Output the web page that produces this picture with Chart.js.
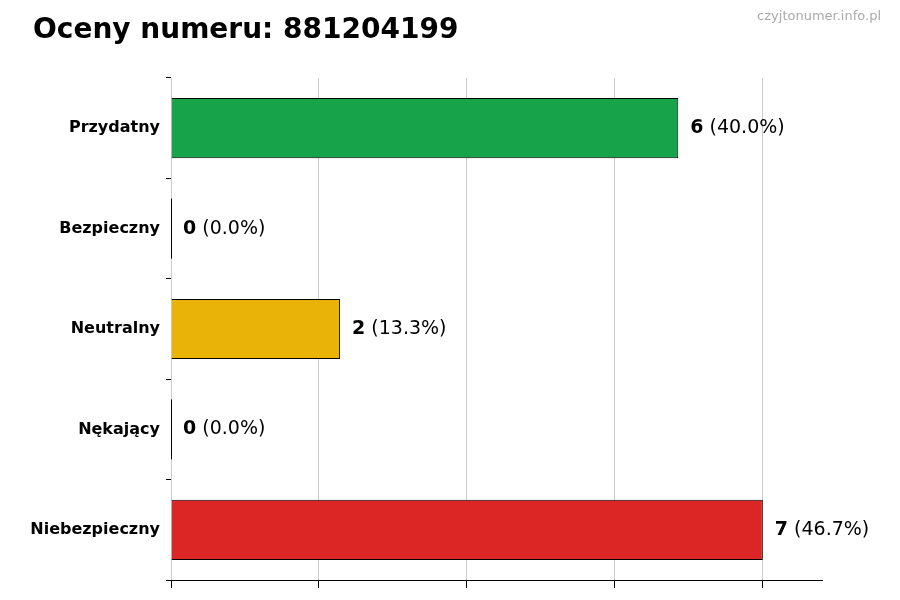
<!DOCTYPE html>
<html><head><meta charset="utf-8">
<script src="https://cdn.jsdelivr.net/npm/chart.js@4"></script>
<style>html,body{margin:0;padding:0;background:#fff}#w{width:900px;height:600px}</style>
</head><body><div id="w"><canvas id="c"></canvas></div>
<script>
const categories=["Przydatny","Bezpieczny","Neutralny","Nękający","Niebezpieczny"];
const counts=[6,0,2,0,7];
const percents=["40.0%","0.0%","13.3%","0.0%","46.7%"];
const colors=["#17a34a","#16a34a","#eab308","#eab308","#dc2626"];
const tickValues=[0,1.75,3.5,5.25,7];
const FONT="'DejaVu Sans', sans-serif";
const deco={id:'deco',
 afterDatasetsDraw(ch){
  const c=ch.ctx,x=ch.scales.x,y=ch.scales.y;
  c.save();
  c.fillStyle='#000';c.font='bold 28px '+FONT;c.textBaseline='middle';c.textAlign='left';
  c.fillText('Oceny numeru: 881204199',33,31);
  c.fillStyle='#aaa';c.font='13px '+FONT;c.textAlign='right';
  c.fillText('czyjtonumer.info.pl',881,17);
  counts.forEach((v,i)=>{
   const py=y.getPixelForValue(i),px=x.getPixelForValue(v);
   if(v===0){c.strokeStyle='#000';c.lineWidth=1;c.beginPath();c.moveTo(px+0.5,py-30);c.lineTo(px+0.5,py+30);c.stroke();}
   c.textAlign='left';c.fillStyle='#000';
   c.font='bold 19px '+FONT;const s=String(v);c.fillText(s,px+12,py);
   const w=c.measureText(s).width;
   c.font='19px '+FONT;c.fillText(' ('+percents[i]+')',px+12+w,py);
  });
  c.restore();
 }};
new Chart(document.getElementById('c'),{type:'bar',
 data:{labels:categories,datasets:[{data:counts,backgroundColor:colors,borderColor:'#000',borderWidth:1,barPercentage:0.6,categoryPercentage:1}]},
 options:{indexAxis:'y',responsive:true,maintainAspectRatio:false,animation:false,
  layout:{padding:{top:78,bottom:10,right:78,left:0}},
  plugins:{legend:{display:false},tooltip:{enabled:false}},
  scales:{
   x:{min:0,max:7.7,afterBuildTicks(s){s.ticks=tickValues.map(v=>({value:v}));},
      ticks:{display:false},border:{color:'#000'},
      grid:{color:'#ccc',tickColor:'#000',tickLength:8,drawTicks:true,offset:false},
      afterFit(s){s.height=10;}},
   y:{ticks:{color:'#000',font:{family:FONT,size:16,weight:'bold'},padding:6},
      border:{display:false},grid:{drawOnChartArea:false,tickColor:'#000',tickLength:5},
      afterFit(s){s.width=171;}}
  }},
 plugins:[deco,{id:'dash',beforeDraw(ch){ch.scales.x.options.grid.borderDash=[4,4];}}]
});
</script></body></html>
